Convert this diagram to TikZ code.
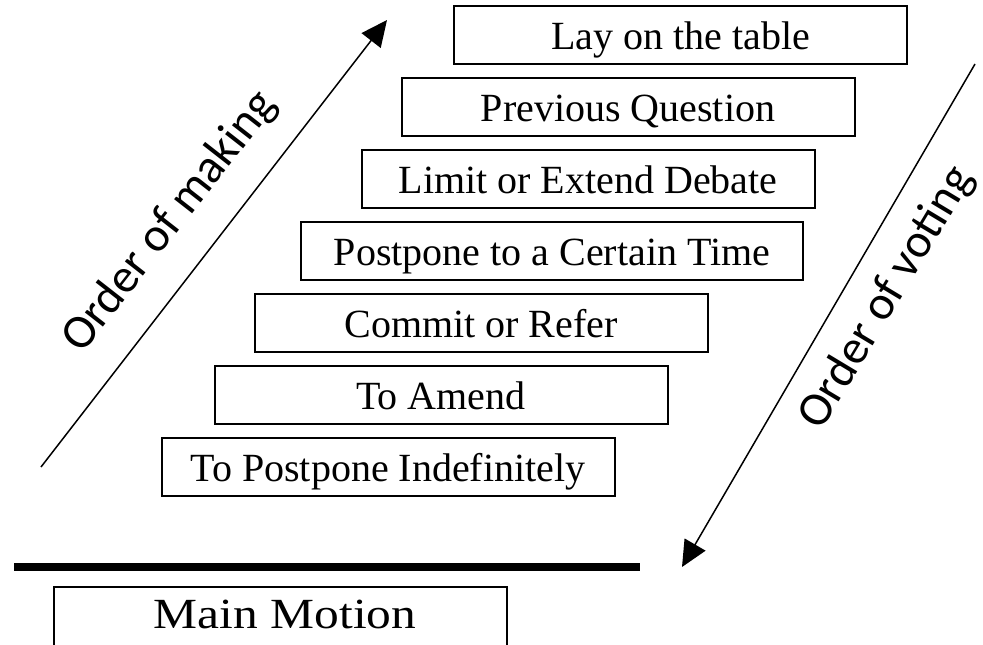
\documentclass[tikz,border=0pt]{standalone}
\usepackage{fontspec}
\setmainfont{Liberation Serif}
\newfontfamily\labelfont{Carlito}
\usetikzlibrary{arrows.meta}

\tikzset{
  motion/.style={draw, line width=2pt, minimum width=453pt, minimum height=58pt, inner sep=0pt, text height=29pt, text depth=0pt, font=\fontsize{40}{40}\selectfont},
  order/.style={line width=1.5pt, -{Triangle[length=26pt,width=24pt]}},
  orderlabel/.style={font=\labelfont\fontsize{48}{48}\selectfont, inner sep=0pt}
}

\begin{document}
\begin{tikzpicture}[x=1pt,y=-1pt]
            \useasboundingbox (0,0) rectangle (983,645);
            \clip (0,0) rectangle (983,645);
            % the subsidiary motions, highest rank on top
            \node[motion] (lay) at (680.5,34.5) {Lay on the table};
            \node[motion] (prevq) at (628,106.5) {Previous Question};
            \node[motion] (limit) at (588,179) {Limit or Extend Debate};
            \node[motion, minimum width=502pt] (postpone) at (552,251) {Postpone to a Certain Time};
            \node[motion] (commit) at (481,322.5) {Commit or Refer};
            \node[motion] (amend) at (441,395) {To Amend};
            \node[motion] (indef) at (388,467) {To Postpone Indefinitely};
            % main motion below the bar
            \draw[line width=8pt] (14,567) -- (640,567);
            \draw[line width=2pt] (54,700) |- (507,587) -- (507,700);
            \node[font=\fontsize{43}{43}\selectfont, inner sep=0pt] (main) at (285,614) {\scalebox{1.15}[1]{Main Motion}};
            % arrows
            \coordinate (makefrom) at (41,467);
            \coordinate (maketo) at (387,20);
            \coordinate (votefrom) at (975,64);
            \coordinate (voteto) at (682,567);
            \draw[order] (makefrom) -- (maketo);
            \draw[order] (votefrom) -- (voteto);
            \node[orderlabel, rotate=52] (making) at (170,222) {Order of making};
            \node[orderlabel, rotate=59] (voting) at (887,298) {Order of voting};
\end{tikzpicture}
\end{document}
